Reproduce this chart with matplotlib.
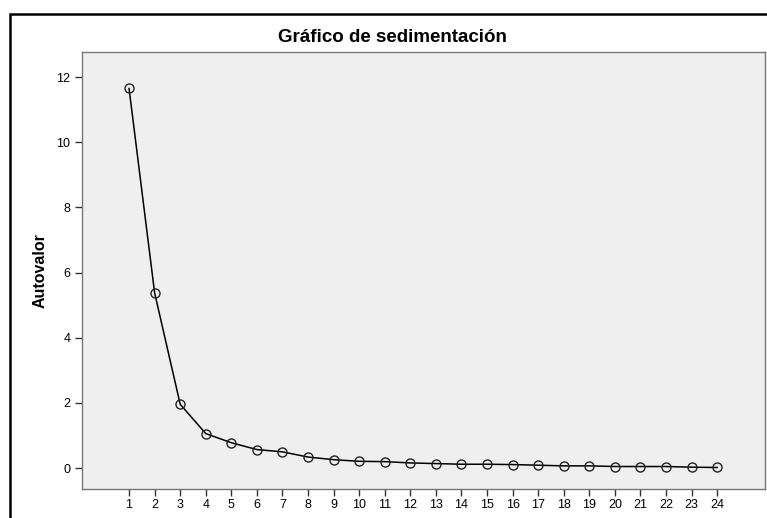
import numpy as np
import matplotlib.pyplot as plt
from matplotlib.patches import Rectangle

# eigenvalues
componentes = list(range(1, 25))
autovalores = [11.65, 5.38, 1.96, 1.06, 0.78, 0.57, 0.50, 0.34, 0.26, 0.21,
               0.20, 0.16, 0.14, 0.12, 0.12, 0.11, 0.09, 0.07, 0.07, 0.05,
               0.05, 0.05, 0.03, 0.02]
y_ticks = [0, 2, 4, 6, 8, 10, 12]

plt.rcParams['font.family'] = ['Liberation Sans', 'DejaVu Sans']

fig = plt.figure(figsize=(7.67, 5.18), dpi=100)

# outer frame (extends beyond image on right/bottom)
fig.patches.append(Rectangle((10/767, -0.1), 1.2, 1 - 14/518 + 0.1,
                             transform=fig.transFigure, fill=False,
                             edgecolor='black', linewidth=1.8))

ax = fig.add_axes([82/767, 1 - 489/518, (765 - 82)/767, (489 - 52)/518])
ax.set_facecolor('#efefef')
for s in ax.spines.values():
    s.set_color('#777777')
    s.set_linewidth(1.0)

ax.plot(componentes, autovalores, color='black', linewidth=1.1,
        marker='o', markersize=6.5, markerfacecolor='none',
        markeredgecolor='#222222', markeredgewidth=1.0)

ax.set_xlim(-0.84, 25.87)
ax.set_ylim(-0.64, 12.77)
ax.set_xticks(componentes)
ax.set_xticklabels([str(c) for c in componentes])
ax.set_yticks(y_ticks)
ax.tick_params(axis='both', labelsize=9, color='#333333', length=5, width=1)
ax.tick_params(axis='x', pad=2)

ax.set_ylabel('Autovalor', fontsize=11.5, fontweight='bold', labelpad=6)
fig.text(392/767, 1 - 38/518, 'Gráfico de sedimentación',
         ha='center', va='center', fontsize=13.5, fontweight='bold')

fig.savefig('out.png', dpi=100)
